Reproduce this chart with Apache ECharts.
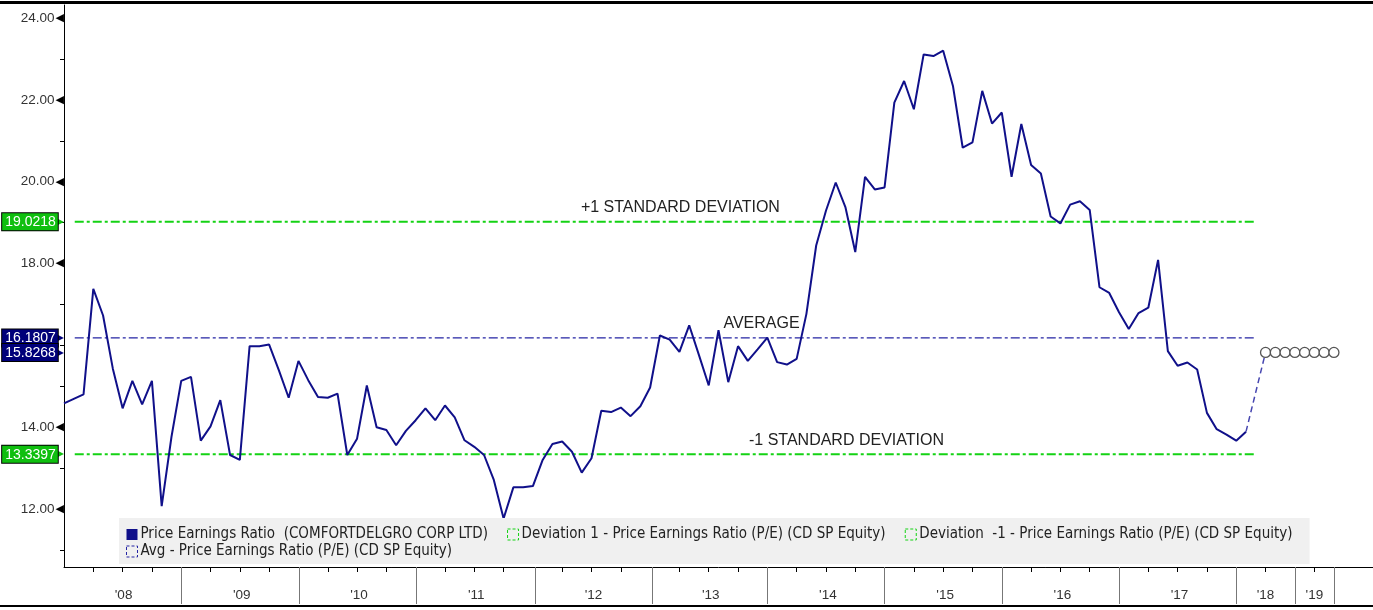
<!DOCTYPE html>
<html>
<head>
<meta charset="utf-8">
<script src="https://cdn.jsdelivr.net/npm/echarts@6/dist/echarts.min.js"></script>
<style>
html,body{margin:0;padding:0;background:#fff;}
#wrap{position:relative;width:1373px;height:610px;overflow:hidden;}
#chart{position:absolute;left:0;top:0;width:1373px;height:610px;}
#topline{position:absolute;left:0;top:1px;width:1373px;height:3px;background:#000;}
#botline{position:absolute;left:0;top:605px;width:1373px;height:2px;background:#000;}
</style>
</head>
<body>
<div id="wrap"><div id="chart"></div><div id="topline"></div><div id="botline"></div></div>
<script>
// ---- data (months since Jan 2008) ----
const peValues = [
  14.58, 14.69, 14.80, 17.38, 16.73, 15.43, 14.46, 15.13, 14.56, 15.13, 12.07, 13.76,
  15.13, 15.23, 13.67, 14.02, 14.66, 13.32, 13.20, 15.98, 15.98, 16.02, 15.39, 14.72,
  15.62, 15.15, 14.74, 14.72, 14.82, 13.32, 13.72, 15.02, 14.00, 13.93, 13.56, 13.91,
  14.17, 14.46, 14.17, 14.53, 14.24, 13.68, 13.52, 13.32, 12.71, 11.77, 12.53, 12.53,
  12.56, 13.20, 13.59, 13.65, 13.40, 12.89, 13.24, 14.40, 14.37, 14.48, 14.27, 14.51,
  14.97, 16.24, 16.14, 15.84, 16.49, 15.76, 15.02, 16.37, 15.10, 15.98, 15.62, 15.90,
  16.19, 15.59, 15.53, 15.67, 16.77, 18.44, 19.29, 19.98, 19.37, 18.28, 20.12, 19.81,
  19.86, 21.93, 22.46, 21.77, 23.11, 23.07, 23.20, 22.34, 20.83, 20.96, 22.22, 21.42,
  21.69, 20.12, 21.41, 20.41, 20.20, 19.15, 18.98, 19.44, 19.52, 19.31, 17.42, 17.28,
  16.81, 16.40, 16.79, 16.92, 18.09, 15.86, 15.50, 15.58, 15.41, 14.35, 13.95, 13.82,
  13.67, 13.89
];
const estMonths = [123, 124, 125, 126, 127, 128, 129, 130];
const estValues = [15.8268, 15.8268, 15.8268, 15.8268, 15.8268, 15.8268, 15.8268, 15.8268];
const plusSD = 19.0218;
const avgPE = 16.1807;
const minusSD = 13.3397;
const estFlag = 15.8268;
const levelSpan = [1.1, 121.9];
const yearLabels = ["'08", "'09", "'10", "'11", "'12", "'13", "'14", "'15", "'16", "'17", "'18", "'19"];
const yearLabelPos = [6.1, 18.2, 30.2, 42.2, 54.2, 66.2, 78.2, 90.2, 102.2, 114.2, 123, 128];
const yearSeparators = [12, 24.1, 36.1, 48.2, 60.2, 72, 84, 96, 108, 120, 126, 130];
const quarterTicks = [3, 6, 9, 15, 18, 21, 27, 30, 33, 39, 42, 45, 51, 54, 57, 63, 66, 69,
  75, 78, 81, 87, 90, 93, 99, 102, 105, 111, 114, 117, 123, 128];
const yTickLabels = [12, 14, 18, 20, 22, 24];
const yMinorTicks = [11, 13, 15, 16, 17, 19, 21, 23];

const names = {
  pe: 'Price Earnings Ratio  (COMFORTDELGRO CORP LTD)',
  dev1: 'Deviation 1 - Price Earnings Ratio (P/E) (CD SP Equity)',
  devm1: 'Deviation  -1 - Price Earnings Ratio (P/E) (CD SP Equity)',
  avg: 'Avg - Price Earnings Ratio (P/E) (CD SP Equity)'
};

const NAVY = '#10108a';
const AVGC = '#2424a4';
const GREEN = '#14d214';
const FONT = 'Liberation Sans';
const LFONT = 'DejaVu Sans Condensed';

const peData = peValues.map((v, i) => [i, v]);
const lastIdx = peValues.length - 1;
const estData = estMonths.map((m, i) => [m, estValues[i]]);
const linkData = [[lastIdx, peValues[lastIdx]], estData[0]];

const yMin = 10.583, yMax = 24.318;

function levelSeries(name, val, color, width, dash, text) {
  return {
    name: name, type: 'line', symbol: 'none', silent: true,
    data: [[levelSpan[0], val], [levelSpan[1], val]],
    lineStyle: { color: color, width: width, type: dash },
    itemStyle: { color: color },
    markPoint: {
      symbol: 'circle', symbolSize: 0, silent: true,
      label: { show: true, position: 'top', distance: 6, formatter: text.label,
        color: '#222', fontSize: 16, fontFamily: FONT },
      data: [{ coord: [text.at, val] }]
    },
    z: 2
  };
}

const chart = echarts.init(document.getElementById('chart'), null, { renderer: 'canvas' });
chart.setOption({
  animation: false,
  backgroundColor: '#fff',
  grid: { left: 64, right: 0, top: 5, bottom: 43, containLabel: false, outerBoundsMode: 'none' },
  legend: {
    left: 119, top: 518, width: 1230,
    orient: 'horizontal',
    backgroundColor: '#f0f0f0',
    padding: [9, 0, 5, 7],
    itemGap: 2,
    itemWidth: 11, itemHeight: 11,
    textStyle: { fontSize: 15, lineHeight: 14, color: '#222', fontFamily: LFONT, padding: [0, 0, 0, -2] },
    formatter: n => n + '    ',
    data: [
      { name: names.pe, icon: 'rect', itemStyle: { color: NAVY, borderWidth: 0 } },
      { name: names.dev1, icon: 'rect', itemStyle: { color: 'rgba(0,0,0,0)', borderColor: GREEN, borderWidth: 1, borderType: [3, 2] } },
      { name: names.devm1, icon: 'rect', itemStyle: { color: 'rgba(0,0,0,0)', borderColor: GREEN, borderWidth: 1, borderType: [3, 2] } },
      { name: names.avg, icon: 'rect', itemStyle: { color: 'rgba(0,0,0,0)', borderColor: AVGC, borderWidth: 1, borderType: [3, 2] } }
    ]
  },
  xAxis: [
    {
      type: 'value', min: 0, max: 134,
      axisLine: { show: true, lineStyle: { color: '#000', width: 1 } },
      splitLine: { show: false },
      axisTick: { show: true, customValues: yearSeparators, length: 37, lineStyle: { color: '#777', width: 1 } },
      axisLabel: { show: true, customValues: yearLabelPos, margin: 21, fontSize: 13.5, color: '#333', fontFamily: FONT,
        formatter: v => { const k = yearLabelPos.indexOf(v); return k >= 0 ? yearLabels[k] : ''; } }
    },
    {
      type: 'value', min: 0, max: 134, position: 'bottom',
      axisLine: { show: false },
      splitLine: { show: false },
      axisTick: { show: true, customValues: quarterTicks, length: 5, lineStyle: { color: '#000', width: 1 } },
      axisLabel: { show: false }
    }
  ],
  yAxis: [
    {
      type: 'value', min: yMin, max: yMax, position: 'left',
      axisLine: { show: true, lineStyle: { color: '#000', width: 1 } },
      splitLine: { show: false },
      axisTick: { show: false },
      axisLabel: { show: true, customValues: yTickLabels, margin: 0,
        formatter: v => '{n|' + v.toFixed(2) + '}{t|◀}',
        rich: {
          n: { fontSize: 13.5, color: '#333', fontFamily: FONT, padding: [0, 1, 0, 0] },
          t: { fontSize: 11, color: '#000', fontFamily: 'DejaVu Sans' }
        } }
    },
    {
      type: 'value', min: yMin, max: yMax, position: 'left',
      axisLine: { show: false }, splitLine: { show: false },
      axisTick: { show: true, customValues: yMinorTicks, length: 4, lineStyle: { color: '#000' } },
      axisLabel: { show: false }
    },
    {
      type: 'value', min: yMin, max: yMax, position: 'left',
      axisLine: { show: false }, splitLine: { show: false }, axisTick: { show: false },
      axisLabel: { show: true, customValues: [plusSD, avgPE, estFlag, minusSD], margin: 0,
        formatter: v => {
          const g = (v === plusSD || v === minusSD);
          return g ? '{g|' + v.toFixed(4) + '}{gt|▶}' : '{b|' + v.toFixed(4) + '}{bt|▶}';
        },
        rich: {
          g: { backgroundColor: '#0fbf0f', color: '#fff', borderColor: '#000', borderWidth: 1,
            padding: [2, 2, 1, 3], fontSize: 14, fontFamily: FONT, lineHeight: 15 },
          gt: { color: '#0fbf0f', fontSize: 12, fontFamily: 'DejaVu Sans', padding: [0, 0, 0, -3] },
          b: { backgroundColor: '#00007a', color: '#fff', borderColor: '#000', borderWidth: 1,
            padding: [2, 2, 1, 3], fontSize: 14, fontFamily: FONT, lineHeight: 15 },
          bt: { color: '#00007a', fontSize: 12, fontFamily: 'DejaVu Sans', padding: [0, 0, 0, -3] }
        } }
    }
  ],
  series: [
    levelSeries(names.dev1, plusSD, GREEN, 2, [9, 3, 3, 3], { label: '+1 STANDARD DEVIATION', at: 63.1 }),
    levelSeries(names.devm1, minusSD, GREEN, 2, [9, 3, 3, 3], { label: '-1 STANDARD DEVIATION', at: 80.1 }),
    levelSeries(names.avg, avgPE, AVGC, 1.2, [9, 3, 3, 3], { label: 'AVERAGE', at: 71.4 }),
    {
      name: names.pe, type: 'line', data: peData, symbol: 'none',
      lineStyle: { color: NAVY, width: 2 }, itemStyle: { color: NAVY }, z: 3
    },
    {
      name: 'Projection', type: 'line', data: linkData, symbol: 'none',
      lineStyle: { color: '#4646b0', width: 1.5, type: [6, 4] }, z: 3
    },
    {
      name: 'Estimates', type: 'line', data: estData, symbol: 'circle', symbolSize: 10,
      lineStyle: { color: '#3a3ab0', width: 1 },
      itemStyle: { color: '#fff', borderColor: '#555', borderWidth: 1.3 }, z: 4
    }
  ]
});
</script>
</body>
</html>
